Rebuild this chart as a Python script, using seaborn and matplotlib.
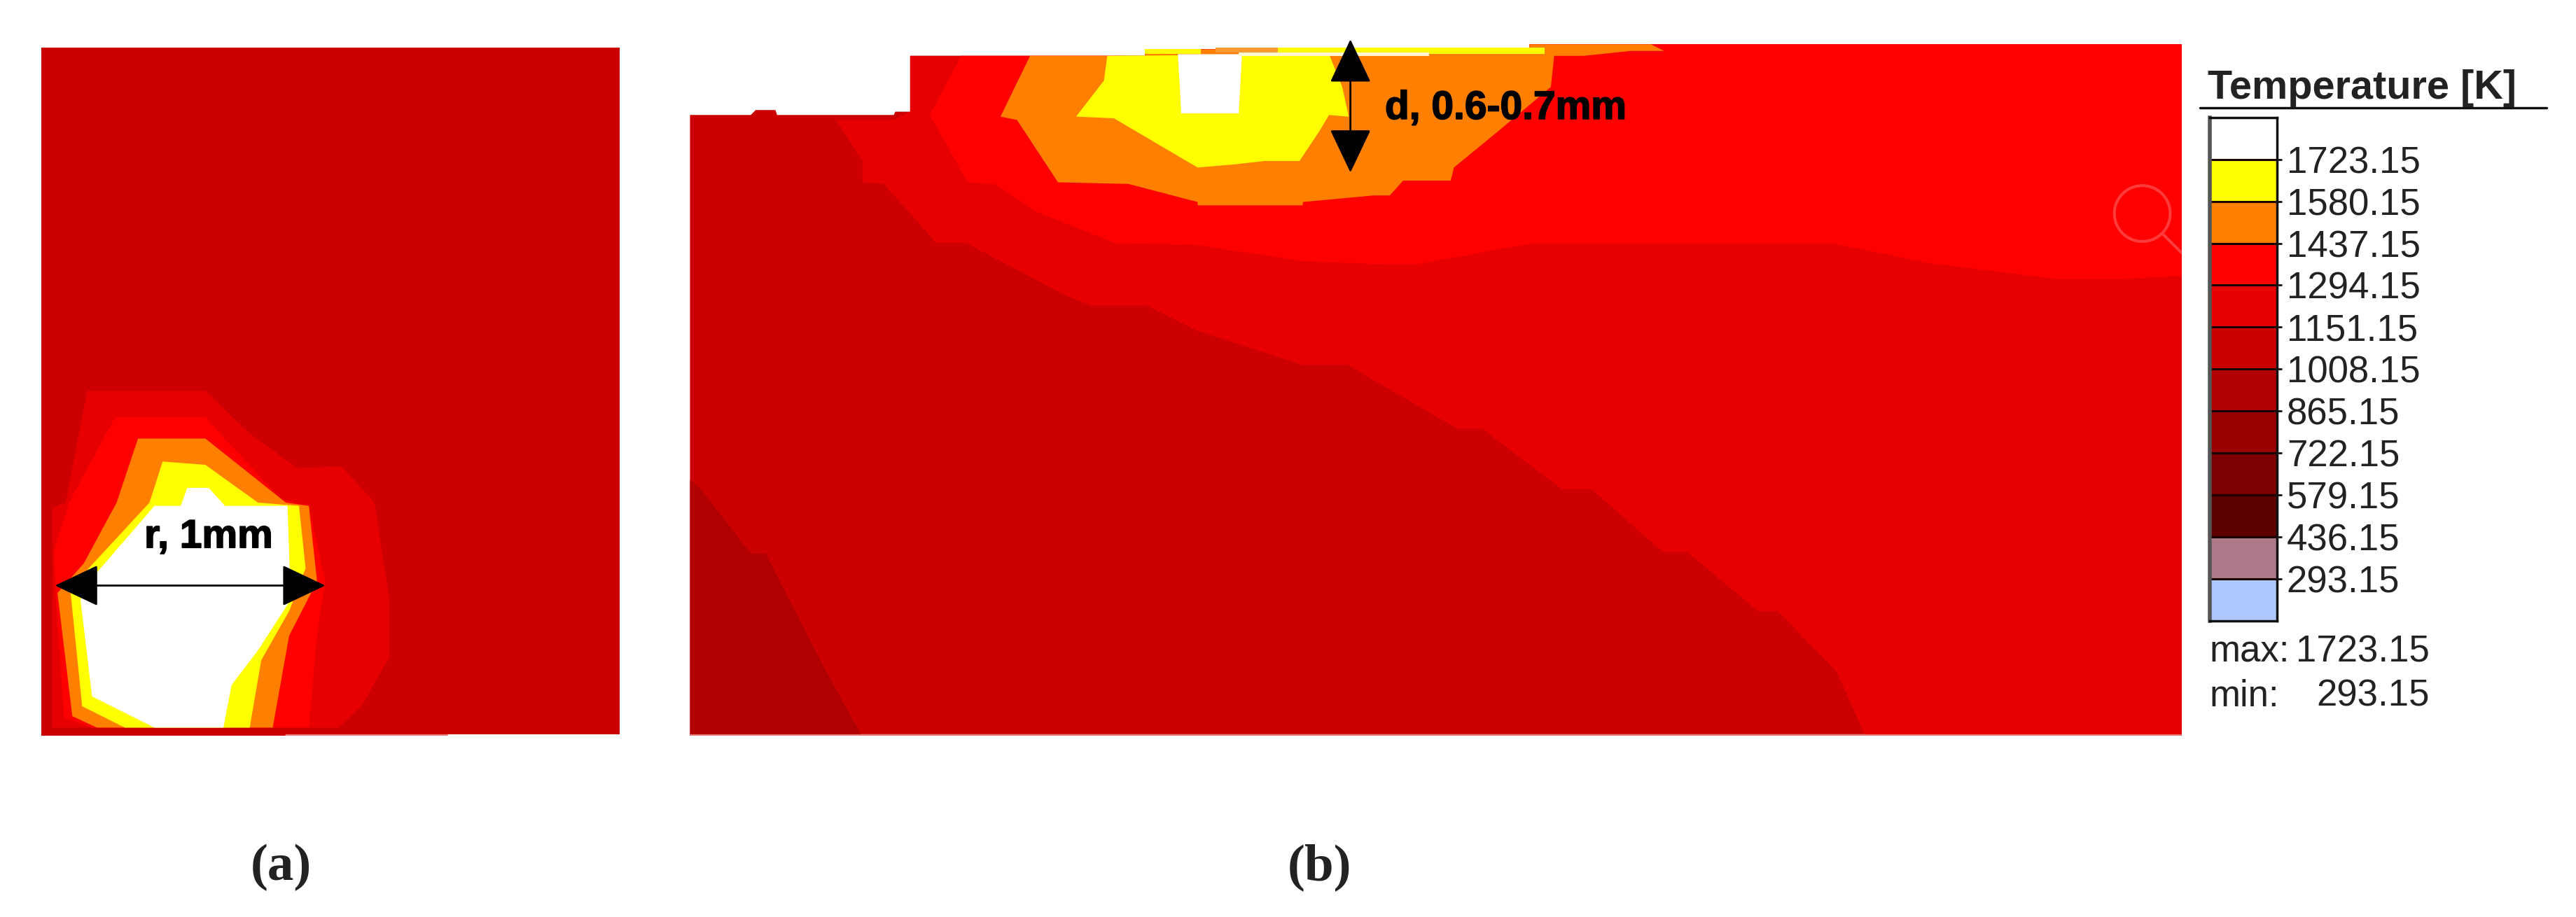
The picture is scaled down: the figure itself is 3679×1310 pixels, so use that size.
import numpy as np
import seaborn as sns
import matplotlib
matplotlib.use("Agg")
import matplotlib.pyplot as plt
import matplotlib.patheffects as pe
from matplotlib.colors import ListedColormap
from matplotlib.patches import Circle

sns.set_theme(style="white")
plt.rcParams['font.family'] = ['Liberation Sans', 'DejaVu Sans']

# Canvas measured in reference units (1 unit = 3679/1568 px)
W, H = 1568.0, 558.3

# Temperature levels and colours
level_labels = ["1723.15", "1580.15", "1437.15", "1294.15", "1151.15", "1008.15",
                "865.15", "722.15", "579.15", "436.15", "293.15"]
level_colors = ["#FFFFFF", "#FFFF00", "#FF8000", "#FF0000", "#E60000", "#CC0000",
                "#B00000", "#990000", "#7D0000", "#5C0000", "#AD7A8A", "#AFC9FF"]
WHITE, YELLOW, ORANGE, RED, RED2, RED3, RED4 = level_colors[:7]

# Panel (a): isotherm outlines
a_e6 = [(32,443),(32,309),(40,306),(53,238),(125,238),(152,264),(181,285),(208,284),
        (228,306),(237,365),(237,400),(220,430),(206,443)]
a_red = [(39,437),(34,365),(33,335),(42,306),(70,254),(125,254),(171,304),(188,308),
         (198,354),(193,387),(188,443),(56,443)]
a_orange = [(84,267),(125,267),(174,306),(188,308),(193,354),(176,387),(166,443),(59,443),
            (44,436),(35,361),(51,343),(71,306)]
a_yellow = [(99,281),(125,283),(157,306),(182,308),(186,346),(176,372),(159,402),(152,443),
            (76,443),(50,430),(43,361),(54,346),(91,306)]
a_white = [(114,297),(127,297),(137,308),(175,308),(177,365),(157,396),(141,417),(136,443),
           (94,443),(56,424),(49,365),(56,352),(94,308),(110,308)]

# Panel (b): isotherm outlines
b_domain = [(420,447),(420,70),(457,70),(460,67),(472,67),(473,70),(544,70),(545,68),(554,68),
            (554,34),(697,34),(697,30),(931,30),(931,27),(1328,27),(1328,447)]
b_b0 = [(420,292),(426,297),(457,337),(466,337),(484,372),(503,409),(524,447),(420,447)]
b_e6 = [(1328,447),(1135,447),(1118,409),(1082,372),(1070,372),(1027,336),(1012,336),(969,298),
        (951,298),(902,261),(887,261),(820,222),(792,222),(728,201),(698,186),(664,186),(649,180),
        (588,148),(570,148),(538,112),(525,111),(525,98),(509,73),(544,73),(554,68),(554,34),
        (697,34),(697,30),(931,30),(931,27),(1328,27)]
b_red = [(585,34),(566,70),(589,111),(605,112),(631,129),(679,148),(728,149),(793,159),(844,161),
         (862,161),(911,152),(935,148),(1115,148),(1173,160),(1253,170),(1289,170),(1328,168),
         (1328,27),(931,27),(931,30),(697,30),(697,34)]
b_orange = [(627,34),(609,71),(619,73),(644,111),(687,112),(729,123),(729,125),(793,125),(793,123),
            (836,119),(846,119),(854,110),(883,110),(885,102),(913,79),(944,53),(946,34),(964,34),
            (993,31),(1013,31),(1005,27),(931,27),(931,30),(697,30),(697,34)]
b_yellow = [(674,34),(672,49),(655,71),(678,72),(729,102),(752,100),(770,98),(791,98),(803,80),
            (809,70),(821,71),(817,53),(809,33)]
b_strip_yellow = [(697,30),(731,30),(731,33),(697,33)]
b_strip_yellow2 = [(778,29),(940,29),(940,33),(778,33)]
b_strip_orange = [(740,29),(778,29),(778,32),(740,32)]
b_white = [(717,33),(719,69),(754,69),(756,33)]
b_white_strip = [(754,32),(870,32),(870,34),(754,34)]


def panel(x0, x1, y0, y1):
    """Axes whose data units are the canvas units, y downward."""
    ax = fig.add_axes([x0 / W, 1 - y1 / H, (x1 - x0) / W, (y1 - y0) / H])
    ax.set_xlim(x0, x1)
    ax.set_ylim(y1, y0)
    ax.axis("off")
    return ax


def fill(ax, pts, color):
    xs, ys = zip(*pts)
    ax.fill(xs, ys, color=color, lw=0, antialiased=True)


def double_arrow(ax, p, q):
    ax.annotate("", xy=q, xytext=p, annotation_clip=False,
                arrowprops=dict(arrowstyle="<|-|>,head_length=2.0,head_width=0.95",
                                mutation_scale=20, color="black", lw=2.0,
                                shrinkA=0, shrinkB=0))


heavy = [pe.withStroke(linewidth=1.2, foreground="black")]

fig = plt.figure(figsize=(36.79, 13.10), dpi=100, facecolor="white")

# ---- panel (a)
ax_a = panel(25, 377, 29, 448)
ax_a.set_facecolor(RED3)
fill(ax_a, [(25,29),(377,29),(377,447),(174,447),(174,448),(25,448)], RED3)
for pts, col in [(a_e6, RED2), (a_red, RED), (a_orange, ORANGE), (a_yellow, YELLOW), (a_white, WHITE)]:
    fill(ax_a, pts, col)
ax_a.plot([174, 272], [447.5, 447.5], color="#E57373", lw=2)
double_arrow(ax_a, (33.5, 356.5), (198, 356.5))
ax_a.text(127, 327, "r, 1mm", ha="center", va="center", fontsize=41, fontweight="bold",
          color="black", path_effects=heavy)

# ---- panel (b)
ax_b = panel(420, 1328, 10, 448)
fill(ax_b, b_domain, RED3)
for pts, col in [(b_b0, RED4), (b_e6, RED2), (b_red, RED), (b_orange, ORANGE), (b_yellow, YELLOW),
                 (b_strip_yellow, YELLOW), (b_strip_yellow2, YELLOW), (b_strip_orange, "#FF9A30"),
                 (b_white, WHITE), (b_white_strip, "#FFF5D0")]:
    fill(ax_b, pts, col)
ax_b.plot([420, 1328], [447.5, 447.5], color="#E87070", lw=2)
ax_b.add_patch(Circle((1304, 130), 17, fill=False, ec="#FF3A3A", lw=3, clip_on=True))
ax_b.plot([1316, 1328], [142, 154], color="#FF3A3A", lw=3)
double_arrow(ax_b, (822, 24), (822, 105))
ax_b.text(843, 66, "d, 0.6-0.7mm", ha="left", va="center", fontsize=41, fontweight="bold",
          color="black", path_effects=heavy)

# ---- legend bar, a seaborn heatmap
ax_bar = panel(1345, 1386, 71.5, 378)
ax_bar.axis("on")
cells = np.arange(len(level_colors)).reshape(-1, 1)
sns.heatmap(cells, ax=ax_bar, cmap=ListedColormap(level_colors), vmin=-0.5, vmax=len(level_colors) - 0.5,
            cbar=False, xticklabels=False, linewidths=0)
ax_bar.hlines(np.arange(1, len(level_colors)), 0, 1, color="#1A0000", lw=2.2)
ax_bar.yaxis.tick_right()
ax_bar.set_yticks(np.arange(1, len(level_colors)))
ax_bar.set_yticklabels(level_labels, rotation=0, fontsize=38, color="#222222")
ax_bar.tick_params(axis="y", right=True, left=False, length=5, width=2, color="#111111", pad=5)
for name, sp in ax_bar.spines.items():
    sp.set_visible(True)
    sp.set_color("#111111" if name != "left" else "#555555")
    sp.set_linewidth(2.5 if name != "left" else 4)

# ---- legend text
ax_t = panel(1335, 1568, 30, 450)
ax_t.text(1344, 60, "Temperature [K]", ha="left", va="baseline", fontsize=41.5, fontweight="bold", color="#222222")
ax_t.plot([1339, 1550], [65.5, 65.5], color="#111111", lw=2.5)
ax_t.text(1345, 397, "max:", ha="left", va="center", fontsize=38, color="#222222")
ax_t.text(1479, 397, level_labels[0], ha="right", va="center", fontsize=38, color="#222222")
ax_t.text(1345, 424, "min:", ha="left", va="center", fontsize=38, color="#222222")
ax_t.text(1479, 424, level_labels[-1], ha="right", va="center", fontsize=38, color="#222222")

# ---- panel captions
ax_c = panel(0, 1568, 490, 558.3)
for x, s in [(171, "(a)"), (803, "(b)")]:
    ax_c.text(x, 528, s, ha="center", va="center", fontsize=54, fontweight="bold",
              family="Liberation Serif", color="#222222")

fig.savefig("out.png", dpi=100, facecolor="white")
